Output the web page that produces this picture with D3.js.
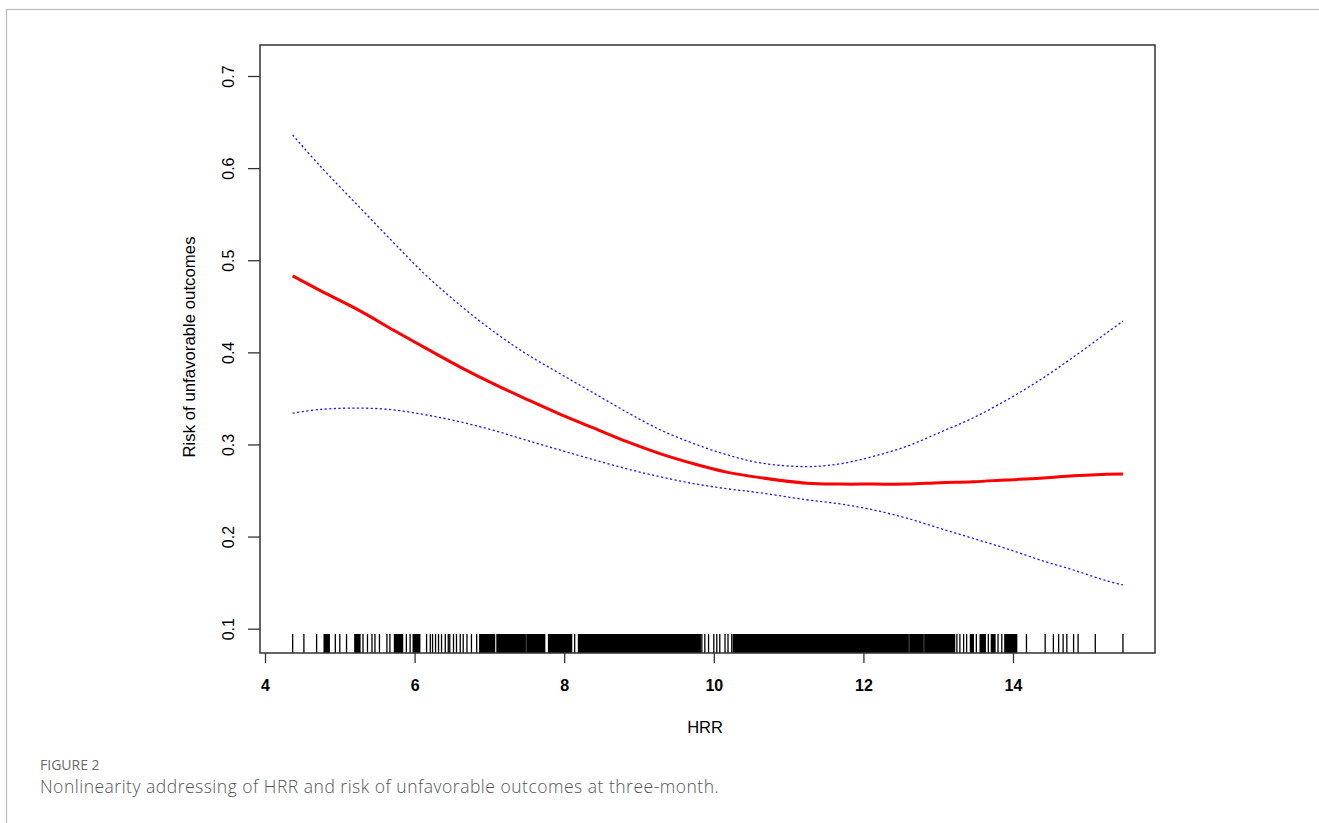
<!DOCTYPE html>
<html>
<head>
<meta charset="utf-8">
<script src="https://cdn.jsdelivr.net/npm/d3@7"></script>
<style>
  body { margin: 0; background: #fff; }
  svg { display: block; }
</style>
</head>
<body>
<script>
// curve values (HRR, risk)
var hrr      = [4.37, 4.74, 5.27, 5.72, 6.16, 6.61, 7.05, 7.50, 7.94, 8.39, 8.84, 9.28, 9.73, 10.17, 10.62, 11.24, 11.69, 12.13, 12.58, 13.02, 13.47, 13.91, 14.36, 14.81, 15.25, 15.47];
var estimate = [0.483, 0.467, 0.445, 0.424, 0.404, 0.384, 0.366, 0.349, 0.333, 0.318, 0.303, 0.290, 0.279, 0.270, 0.264, 0.258, 0.257, 0.257, 0.257, 0.2585, 0.2596, 0.2615, 0.2633, 0.266, 0.2677, 0.268];
var upper    = [0.636, 0.602, 0.557, 0.519, 0.483, 0.451, 0.423, 0.398, 0.377, 0.356, 0.335, 0.316, 0.301, 0.289, 0.280, 0.276, 0.279, 0.287, 0.298, 0.313, 0.329, 0.348, 0.370, 0.395, 0.421, 0.434];
var lower    = [0.334, 0.338, 0.3395, 0.3375, 0.332, 0.3245, 0.3155, 0.3045, 0.294, 0.2835, 0.2735, 0.265, 0.2575, 0.252, 0.2475, 0.240, 0.2354, 0.229, 0.220, 0.209, 0.198, 0.187, 0.1746, 0.1637, 0.152, 0.1475];

// rug: single observations and stretches that print solid black
var rugTicks = [4.37, 4.52, 4.69, 4.94, 5.00, 5.09, 5.31, 5.37, 5.43, 5.47, 5.53, 5.63, 5.67, 5.89, 5.94,
                6.16, 6.21, 6.24, 6.28, 6.32, 6.36, 6.41, 6.45, 6.47, 6.52, 6.56, 6.61, 6.65, 6.70, 6.76, 6.83,
                8.14, 9.84, 9.88, 9.93, 10.00, 10.04, 10.08, 10.15, 10.19, 10.24,
                13.25, 13.29, 13.34, 13.38, 13.51, 13.67, 13.80, 13.85,
                14.18, 14.43, 14.54, 14.61, 14.67, 14.72, 14.81, 14.87, 15.10, 15.47];
var rugBands = [[4.79, 4.86], [5.20, 5.27], [5.73, 5.84], [5.98, 6.07], [6.87, 7.07], [7.10, 7.48], [7.50, 7.74],
                [7.79, 8.10], [8.19, 9.82], [10.26, 12.60], [12.62, 12.80], [12.82, 13.22],
                [13.43, 13.47], [13.56, 13.63], [13.71, 13.76], [13.89, 14.05]];

var xTicks = [4, 6, 8, 10, 12, 14];
var yTicks = [0.1, 0.2, 0.3, 0.4, 0.5, 0.6, 0.7];

var W = 1319, H = 823;
var box = {left: 260, top: 45, right: 1155, bottom: 653};

var svg = d3.select("body").append("svg")
    .attr("width", W)
    .attr("height", H);

// page frame
svg.append("rect")
    .attr("x", 6.5).attr("y", 9.5)
    .attr("width", W).attr("height", H)
    .attr("fill", "none")
    .attr("stroke", "#bdbdbd")
    .attr("stroke-width", 1.2);

var x = d3.scaleLinear().domain([4, 14]).range([265, 1013]);
var y = d3.scaleLinear().domain([0.1, 0.7]).range([628.7, 76]);

var fontR = "'Liberation Sans', Arial, sans-serif";

// axes
var xAxis = svg.append("g")
    .attr("transform", "translate(0," + box.bottom + ")")
    .call(d3.axisBottom(x).tickValues(xTicks).tickSize(10).tickFormat(d3.format("d")));
xAxis.select(".domain").remove();
xAxis.selectAll("line").attr("stroke", "#333").attr("stroke-width", 1.3);
xAxis.selectAll("text")
    .attr("y", 38).attr("dy", 0)
    .attr("fill", "#000")
    .style("font-family", fontR)
    .style("font-size", "16px")
    .style("font-weight", "bold");

var yAxis = svg.append("g")
    .attr("transform", "translate(" + box.left + ",0)")
    .call(d3.axisLeft(y).tickValues(yTicks).tickSize(12).tickFormat(d3.format(".1f")));
yAxis.select(".domain").remove();
yAxis.selectAll("line").attr("stroke", "#333").attr("stroke-width", 1.3);
yAxis.selectAll("text")
    .attr("transform", "rotate(-90)")
    .attr("x", 0).attr("y", -26).attr("dy", 0)
    .attr("text-anchor", "middle")
    .attr("fill", "#000")
    .style("font-family", fontR)
    .style("font-size", "16px");

// rug
svg.append("g").selectAll("line")
    .data(rugTicks)
    .enter().append("line")
    .attr("x1", function(d) { return x(d); })
    .attr("x2", function(d) { return x(d); })
    .attr("y1", 634)
    .attr("y2", box.bottom)
    .attr("stroke", "#000")
    .attr("stroke-width", 1.3);

svg.append("g").selectAll("rect")
    .data(rugBands)
    .enter().append("rect")
    .attr("x", function(d) { return x(d[0]) - 0.6; })
    .attr("width", function(d) { return x(d[1]) - x(d[0]) + 1.2; })
    .attr("y", 634)
    .attr("height", box.bottom - 634)
    .attr("fill", "#000");

// curves
function pts(vals) {
    return hrr.map(function(h, i) { return [h, vals[i]]; });
}
var line = d3.line()
    .x(function(d) { return x(d[0]); })
    .y(function(d) { return y(d[1]); })
    .curve(d3.curveCatmullRom);

[upper, lower].forEach(function(s) {
    svg.append("path")
        .attr("d", line(pts(s)))
        .attr("fill", "none")
        .attr("stroke", "#1a1aff")
        .attr("stroke-width", 1.3)
        .attr("stroke-dasharray", "2.2,2.4");
});

svg.append("path")
    .attr("d", line(pts(estimate)))
    .attr("fill", "none")
    .attr("stroke", "#ff0000")
    .attr("stroke-width", 3);

// plot box
svg.append("rect")
    .attr("x", box.left).attr("y", box.top)
    .attr("width", box.right - box.left)
    .attr("height", box.bottom - box.top)
    .attr("fill", "none")
    .attr("stroke", "#333")
    .attr("stroke-width", 1.5);

// axis titles
svg.append("text")
    .attr("x", 705).attr("y", 733)
    .attr("text-anchor", "middle")
    .style("font-family", fontR)
    .style("font-size", "16.5px")
    .text("HRR");

svg.append("text")
    .attr("transform", "translate(195,347) rotate(-90)")
    .attr("text-anchor", "middle")
    .style("font-family", fontR)
    .style("font-size", "16.8px")
    .text("Risk of unfavorable outcomes");

// caption
svg.append("text")
    .attr("x", 40).attr("y", 770)
    .attr("fill", "#6b6b6b")
    .style("font-family", "'Open Sans', sans-serif")
    .style("font-size", "14px")
    .text("FIGURE 2");

svg.append("text")
    .attr("x", 40).attr("y", 793)
    .attr("fill", "#555")
    .style("font-family", "'Open Sans', sans-serif")
    .style("font-size", "17.5px")
    .style("font-weight", 300)
    .style("letter-spacing", "0.5px")
    .text("Nonlinearity addressing of HRR and risk of unfavorable outcomes at three-month.");
</script>
</body>
</html>
